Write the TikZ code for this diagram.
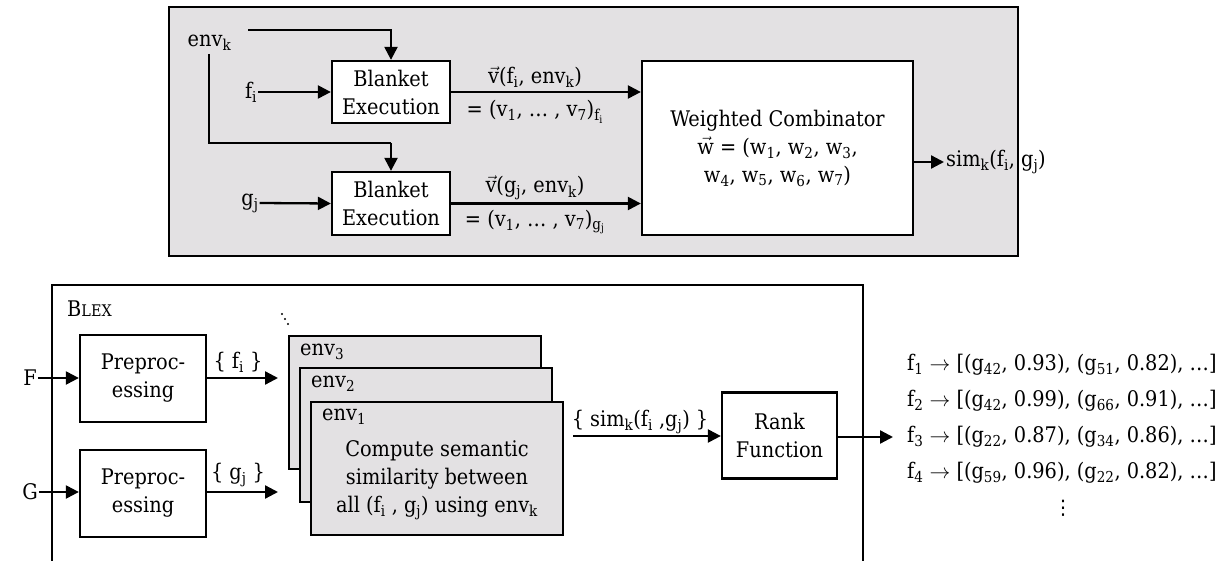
\documentclass[tikz,border=0pt]{standalone}
\usepackage{fontspec}
\setmainfont{DejaVu Serif Condensed}
\newfontfamily\symfont{DejaVu Sans}
\usetikzlibrary{arrows.meta,calc}
\definecolor{panel}{HTML}{E3E1E3}
\newcommand{\sbs}[1]{\textsubscript{#1}}
\newcommand{\vv}{$\vec{\mbox{v}}$}
\newcommand{\vw}{$\vec{\mbox{w}}$}
\tikzset{
  every node/.style={font=\fontsize{21.5}{28}\selectfont, inner sep=1pt},
  blockbox/.style={draw, line width=2.3pt, fill=white, align=center, inner sep=0pt},
  envbox/.style={draw, line width=2.3pt, fill=panel, inner sep=0pt},
  flow/.style={line width=2.3pt, -{Triangle[length=13pt,width=13pt]}},
  wire/.style={line width=2.3pt},
  lbl/.style={inner sep=1pt},
}
\begin{document}
\begin{tikzpicture}[x=1pt,y=-1pt]
\useasboundingbox (0,0) rectangle (1223,561);

% ---------- upper panel: similarity for one environment ----------
\node[draw, line width=2.3pt, fill=panel, minimum width=849pt, minimum height=249pt] (panel) at (593.5,131.5) {};

\node[lbl] (envk) at (209.5,43) {env\sbs{k}};
\node[lbl] (fi) at (251,92) {f\sbs{i}};
\node[lbl] (gj) at (250,203) {g\sbs{j}};

\node[blockbox, minimum width=118pt, minimum height=62pt] (be1) at (391,92) {Blanket\\Execution};
\node[blockbox, minimum width=118pt, minimum height=63pt] (be2) at (391,203.5) {Blanket\\Execution};

\node[blockbox, minimum width=271pt, minimum height=174pt] (wc) at (777.5,148)
  {Weighted Combinator\\ \vw{} = (w\sbs{1}, w\sbs{2}, w\sbs{3},\\ w\sbs{4}, w\sbs{5}, w\sbs{6}, w\sbs{7})};

\coordinate (ka) at (248,30);
\coordinate (kb) at (209,54);
\coordinate (kc) at (391,143);
\draw[flow] (ka) -| (be1.north);
\draw[wire] (kb) |- (kc);
\draw[flow] (kc) -- (be2.north);

\draw[flow] (fi.east) -- (be1.west);
\draw[flow] (gj.east) -- (be2.west);

\draw[flow] (be1.east) -- (be1.east -| wc.west);
\draw[flow] (be2.east) -- (be2.east -| wc.west);
\node[lbl] at (535,77) {\vv(f\sbs{i}, env\sbs{k})};
\node[lbl] at (535,112) {= (v\sbs{1}, … , v\sbs{7})\sbs{f\sbs{i}}};
\node[lbl] at (535,188) {\vv(g\sbs{j}, env\sbs{k})};
\node[lbl] at (535,222) {= (v\sbs{1}, … , v\sbs{7})\sbs{g\sbs{j}}};

\coordinate (so) at (944,162);
\draw[flow] (wc.east |- so) -- (so);
\node[lbl, anchor=west] (sim) at (945,162) {sim\sbs{k}(f\sbs{i}, g\sbs{j})};

% ---------- lower frame: the BLEX pipeline ----------
\draw[wire] (52,565) -- (52,285) -- (863,285) -- (863,565);
\node[lbl] (blex) at (89.5,309) {B{\fontsize{16}{18}\selectfont LEX}};

\node[lbl] (F) at (30,378) {F};
\node[lbl] (G) at (30,492) {G};
\node[blockbox, minimum width=126pt, minimum height=87pt] (pp1) at (143,378.5) {Preproc-\\essing};
\node[blockbox, minimum width=126pt, minimum height=87pt] (pp2) at (143,493.5) {Preproc-\\essing};
\draw[flow] (F.east) -- (pp1.west |- F.east);
\draw[flow] (G.east) -- (pp2.west |- G.east);

\coordinate (fin) at (278,378);
\coordinate (gin) at (278,492);
\draw[flow] (pp1.east |- fin) -- (fin);
\draw[flow] (pp2.east |- gin) -- (gin);
\node[lbl] at (238,362) {\{ f\sbs{i} \}};
\node[lbl] at (238,475) {\{ g\sbs{j} \}};

% stacked environments
\node[envbox, minimum width=252pt, minimum height=133pt] (env3) at (415,402.5) {};
\node[envbox, minimum width=252pt, minimum height=134pt] (env2) at (426,435) {};
\node[envbox, minimum width=252pt, minimum height=133pt] (env1) at (437,468.5) {};
\node[lbl, anchor=west] at (299,352) {env\sbs{3}};
\node[lbl, anchor=west] at (310,384) {env\sbs{2}};
\node[lbl, anchor=west] at (321,417) {env\sbs{1}};
\node[lbl, align=center] at (437,480)
  {Compute semantic\\similarity between\\all (f\sbs{i} , g\sbs{j}) using env\sbs{k}};

% more environments behind the stack
\fill (282,314) circle (1.1pt);
\fill (285,319) circle (1.1pt);
\fill (288,324) circle (1.1pt);

\node[blockbox, minimum width=115pt, minimum height=86pt] (rank) at (779.5,435.5) {Rank\\Function};
\coordinate (sa) at (573,436);
\draw[flow] (sa) -- (rank.west |- sa);
\node[lbl] at (640,422) {\{ sim\sbs{k}(f\sbs{i} ,g\sbs{j}) \}};

\coordinate (ro) at (893,437);
\draw[flow] (rank.east |- ro) -- (ro);

% ranked candidate lists
\node[lbl, anchor=west] (r1) at (906,365) {f\sbs{1} $\rightarrow$ [(g\sbs{42}, 0.93), (g\sbs{51}, 0.82), …]};
\node[lbl, anchor=west] (r2) at (906,401) {f\sbs{2} $\rightarrow$ [(g\sbs{42}, 0.99), (g\sbs{66}, 0.91), …]};
\node[lbl, anchor=west] (r3) at (906,437) {f\sbs{3} $\rightarrow$ [(g\sbs{22}, 0.87), (g\sbs{34}, 0.86), …]};
\node[lbl, anchor=west] (r4) at (906,473) {f\sbs{4} $\rightarrow$ [(g\sbs{59}, 0.96), (g\sbs{22}, 0.82), …]};
\node[lbl] (rd) at (1063,508) {\symfont\fontsize{20}{24}\selectfont ⋮};
\end{tikzpicture}
\end{document}
